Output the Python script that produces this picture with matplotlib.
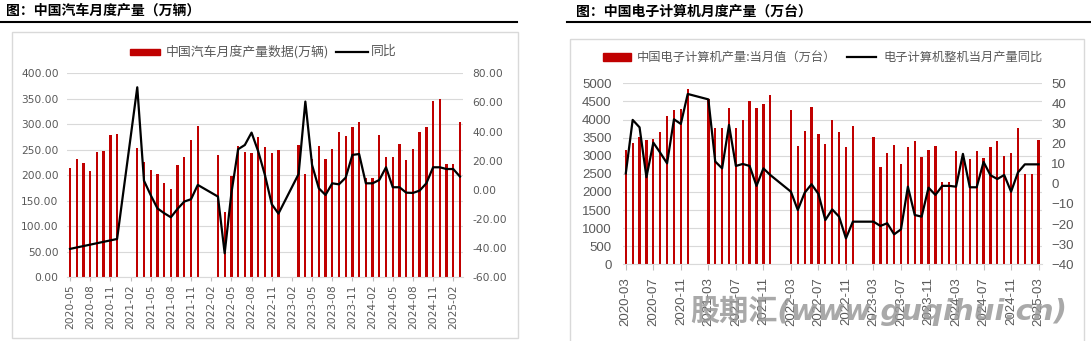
import matplotlib
matplotlib.use('Agg')
import matplotlib.pyplot as plt
import numpy as np
import pandas as pd
from matplotlib.patches import Rectangle
from matplotlib.lines import Line2D
from matplotlib.transforms import Affine2D

W, H = 1091, 341
plt.rcParams['font.family'] = ['Noto Sans CJK SC', 'DejaVu Sans']

# ---- data: China monthly auto output (10k units) and YoY (%) ----
car_months = list(pd.period_range('2020-05', '2025-03', freq='M').strftime('%Y-%m'))
car_output = [215, 232, 225, 208, 246, 248, 279, 281,
              None, None, 253, 227, 210, 203, 185, 174, 220, 235, 269, 297,
              None, None, 239, 128, 199, 258, 245, 243, 276, 256, 243, 250,
              None, None, 260, 202, 231, 257, 232, 251, 284, 278, 295, 305,
              195, 195, 279, 235, 235, 262, 230, 251, 284, 295, 345, 350,
              222, 222, 304]
car_yoy = [-40.5, None, None, None, None, None, None, -33.7,
           None, None, 70.4, 6.3, -3.6, -12.7, -16.0, -18.8, -13.0, -8.0, -6.4, 3.4,
           None, None, -4.6, -43.5, -2.3, 27.9, 30.8, 39.3, 26.3, 10.0, -9.8, -16.3,
           None, None, 10.9, 60.6, 17.1, 1.1, -3.5, 4.5, 3.8, 8.4, 24.0, 24.6,
           4.5, 4.5, 6.8, 15.5, 1.8, 1.8, -1.9, -2.1, -0.5, 4.5, 15.5, 15.5,
           14.3, 14.3, 9.1]

# ---- data: China monthly PC output (10k units) and YoY (%) ----
pc_months = list(pd.period_range('2020-03', '2025-03', freq='M').strftime('%Y-%m'))
pc_output = [3158, 3350, 3508, 3444, 3462, 3660, 4090, 4263, 4282, 4830,
             None, None, 4560, 3757, 3775, 4305, 3757, 3990, 4521, 4305, 4429, 4690,
             None, None, 4263, 3278, 3683, 4355, 3591, 3333, 3996, 3646, 3232, 3831,
             None, None, 3517, 2680, 3066, 3297, 2772, 3232, 3416, 2974, 3158, 3269,
             2265, 2265, 3131, 2990, 2900, 3131, 2928, 3250, 3416, 2992, 3085, 3757,
             2505, 2505, 3444]
pc_yoy = [5.2, 31.8, 28.1, 3.3, 20.5, 15.5, 10.2, 32.1, 29.8, 44.7,
          None, None, 42.0, 11.1, 7.7, 29.3, 8.9, 9.9, 8.9, -1.0, 7.7, 4.4,
          None, None, -3.9, -13.0, -4.4, -0.2, -5.0, -18.0, -12.7, -16.3, -27.1, -18.8,
          None, None, -18.8, -20.9, -19.6, -25.1, -22.6, -1.4, -15.5, -16.3, -1.9, -5.5,
          -1.0, -1.0, -1.4, 14.9, -1.7, -1.7, 10.9, 4.3, 2.4, 4.4, -3.9, 5.7,
          9.7, 9.7, 9.7]

RED = '#C00000'
GREY = '#595959'
GRID = '#D9D9D9'

fig = plt.figure(figsize=(W / 100, H / 100), dpi=100)
px = Affine2D().scale(1 / W, -1 / H).translate(0, 1) + fig.transFigure


def axes_px(l, t, r, b):
    return fig.add_axes([l / W, 1 - b / H, (r - l) / W, (b - t) / H])


def draw(ax, months, bars, yoy, step, lw):
    x = np.arange(len(months))
    v = np.array(bars, dtype=float)
    ok = ~np.isnan(v)
    ax.bar(x[ok], v[ok], width=0.34, color=RED, zorder=2)
    ax2 = ax.twinx()
    y = np.array(yoy, dtype=float)
    ok2 = ~np.isnan(y)
    ax2.plot(x[ok2], y[ok2], color='black', lw=lw, zorder=3)
    for a in (ax, ax2):
        for s in a.spines.values():
            s.set_visible(False)
    ax.spines['bottom'].set_visible(True)
    ax.spines['bottom'].set_color(GRID)
    ax.grid(axis='y', color=GRID, lw=0.8, zorder=0)
    ax.set_axisbelow(True)
    ax.set_xticks(x[::step])
    ax.set_xticklabels(months[::step], rotation=90)
    ax.set_xlim(-0.45, len(months) - 0.55)
    return ax2


# ---------------- left panel ----------------
fig.text(6 / W, 1 - 11 / H, '图：中国汽车月度产量（万辆）', fontsize=10, fontweight='bold',
         va='center', color='black')
fig.add_artist(Line2D([0, 517], [22.4, 22.4], transform=px, color='black', lw=1.5))
fig.add_artist(Rectangle((11.5, 32.4), 506.5, 305.5, transform=px, fill=False,
                         edgecolor=GRID, lw=1))
fig.add_artist(Rectangle((130, 48.5), 30, 6.5, transform=px, color=RED))
fig.text(166 / W, 1 - 51.7 / H, '中国汽车月度产量数据(万辆)', fontsize=9.3, color=GREY, va='center')
fig.add_artist(Line2D([336, 368], [51.7, 51.7], transform=px, color='black', lw=1.6))
fig.text(371 / W, 1 - 51.7 / H, '同比', fontsize=9.3, color=GREY, va='center')

ax = axes_px(67, 73.3, 463, 277.3)
ax2 = draw(ax, car_months, car_output, car_yoy, 3, 1.6)
ax.set_ylim(0, 400)
ax.set_yticks(np.arange(0, 401, 50))
ax.set_yticklabels(['%.2f' % v for v in np.arange(0, 401, 50)])
ax2.set_ylim(-60, 80)
ax2.set_yticks(np.arange(-60, 81, 20))
ax2.set_yticklabels(['%.2f' % v for v in np.arange(-60, 81, 20)])
ax.tick_params(axis='y', length=0, pad=6, labelcolor=GREY, labelsize=7.7)
ax2.tick_params(axis='y', length=0, pad=6.5, labelcolor=GREY, labelsize=7.7)
ax.tick_params(axis='x', length=3, color='#BFBFBF', pad=2, labelcolor=GREY, labelsize=7.7)
for t in ax.get_xticklabels() + ax.get_yticklabels() + ax2.get_yticklabels():
    t.set_fontfamily('DejaVu Sans')

# ---------------- right panel ----------------
fig.text(576 / W, 1 - 11.5 / H, '图：中国电子计算机月度产量（万台）', fontsize=10, fontweight='bold',
         va='center', color='black')
fig.add_artist(Line2D([567, 1091], [22.4, 22.4], transform=px, color='black', lw=1.5))
fig.add_artist(Rectangle((570, 38.6), 514, 306, transform=px, fill=False,
                         edgecolor=GRID, lw=1))
fig.add_artist(Rectangle((603, 53.4), 28, 8, transform=px, color=RED))
fig.text(637 / W, 1 - 57 / H, '中国电子计算机产量:当月值（万台）', fontsize=8.8, color=GREY, va='center')
fig.add_artist(Line2D([847, 876], [57, 57], transform=px, color='black', lw=1.6))
fig.text(883 / W, 1 - 57 / H, '电子计算机整机当月产量同比', fontsize=8.8, color=GREY, va='center')

bx = axes_px(622.7, 83.3, 1041.7, 264.3)
bx2 = draw(bx, pc_months, pc_output, pc_yoy, 4, 1.6)
bx.set_ylim(0, 5000)
bx.set_yticks(np.arange(0, 5001, 500))
bx2.set_ylim(-40, 50)
bx2.set_yticks(np.arange(-40, 51, 10))
bx.tick_params(axis='y', length=0, pad=8, labelcolor=GREY, labelsize=9.5)
bx2.tick_params(axis='y', length=0, pad=7, labelcolor=GREY, labelsize=9.5)
bx.tick_params(axis='x', length=4, color='#BFBFBF', pad=5, labelcolor=GREY, labelsize=9.5)
for t in bx.get_xticklabels() + bx.get_yticklabels() + bx2.get_yticklabels():
    t.set_fontfamily('Liberation Sans')

# watermark
fig.text(690 / W, 1 - 311 / H, '股期汇(www.guqihui.cn)', fontsize=21, fontweight='bold',
         fontstyle='italic', family=['DejaVu Sans', 'Noto Sans CJK SC'],
         color='#9a9a9a', alpha=0.85, va='center', ha='left', zorder=10)

fig.savefig('out.png', dpi=100)
